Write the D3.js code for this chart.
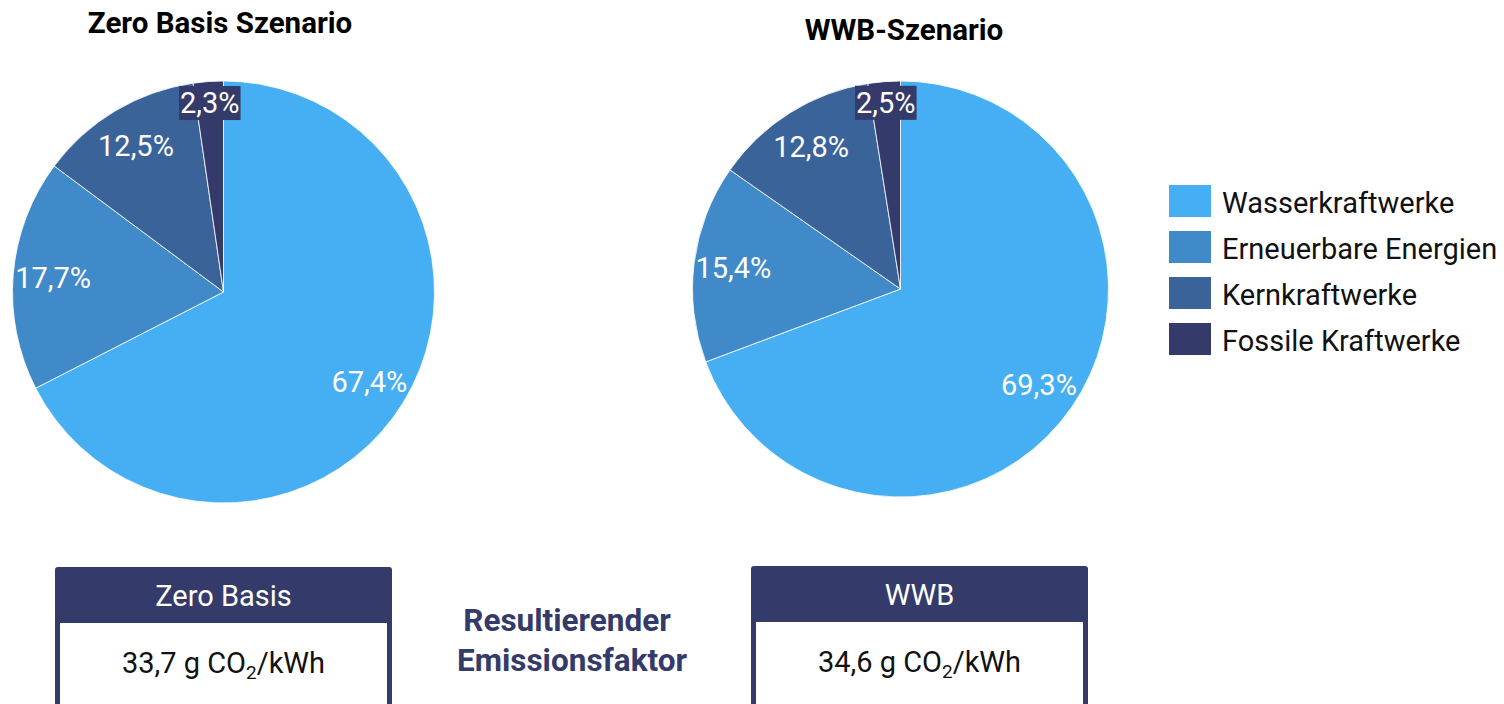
<!DOCTYPE html>
<html>
<head>
<meta charset="utf-8">
<script src="https://cdn.jsdelivr.net/npm/d3@7"></script>
<style>
  html, body { margin: 0; padding: 0; background: #fff; }
  svg { display: block; font-family: Roboto, "Noto Sans", sans-serif; }
</style>
</head>
<body>
<svg id="chart" width="1504" height="704"></svg>
<script>
const categories = ["Wasserkraftwerke", "Erneuerbare Energien", "Kernkraftwerke", "Fossile Kraftwerke"];
const zeroBasisValues = [67.4, 17.7, 12.5, 2.3];
const wwbValues = [69.3, 15.4, 12.8, 2.5];
const scenarioTitles = ["Zero Basis Szenario", "WWB-Szenario"];
const boxTitles = ["Zero Basis", "WWB"];
const emissionValues = ["33,7", "34,6"];
const colors = ["#46AEF2", "#418AC9", "#3A6399", "#343A69"];

const svg = d3.select("#chart");
const color = d3.scaleOrdinal().domain(categories).range(colors);
const fmt = v => d3.format(".1f")(v).replace(".", ",") + "%";

const pies = [
  { values: zeroBasisValues, title: scenarioTitles[0], cx: 223.5, cy: 292, r: 211, titleX: 220, titleY: 33 },
  { values: wwbValues, title: scenarioTitles[1], cx: 900.5, cy: 289, r: 208, titleX: 904, titleY: 40 }
];

const pieGen = d3.pie().sort(null).value(d => d.value);

pies.forEach(p => {
  svg.append("text")
    .attr("x", p.titleX).attr("y", p.titleY)
    .attr("text-anchor", "middle")
    .attr("font-weight", "bold").attr("font-size", 29.5)
    .attr("fill", "#000")
    .text(p.title);

  const data = categories.map((c, i) => ({ cat: c, value: p.values[i] }));
  const arcs = pieGen(data);
  const g = svg.append("g").attr("transform", `translate(${p.cx},${p.cy})`);
  const arc = d3.arc().innerRadius(0).outerRadius(p.r);
  g.selectAll("path").data(arcs).join("path")
    .attr("d", arc)
    .attr("fill", d => color(d.data.cat))
    .attr("stroke", "#fff").attr("stroke-width", 0.8);

  arcs.forEach((d, i) => {
    const isSmall = i === categories.length - 1;
    const lr = p.r * (isSmall ? 0.9 : 0.81);
    const la = d3.arc().innerRadius(lr).outerRadius(lr);
    const [x, y] = la.centroid(d);
    const lg = g.append("g").attr("transform", `translate(${x},${y})`);
    const t = lg.append("text")
      .attr("text-anchor", "middle").attr("dy", "0.36em")
      .attr("font-size", 29).attr("fill", "#fff")
      .text(fmt(d.data.value));
    if (isSmall) {
      const bb = t.node().getBBox();
      lg.insert("rect", "text")
        .attr("x", bb.x - 1).attr("y", bb.y)
        .attr("width", bb.width + 2).attr("height", bb.height)
        .attr("fill", colors[3]);
    }
  });
});

// Legend
const legend = svg.append("g").attr("transform", "translate(1169,185)");
categories.forEach((c, i) => {
  const row = legend.append("g").attr("transform", `translate(0,${i * 46})`);
  row.append("rect").attr("width", 42).attr("height", 32).attr("fill", color(c));
  row.append("text").attr("x", 53).attr("y", 28)
    .attr("font-size", 29).attr("fill", "#111").text(c);
});

// Emission boxes
const boxes = [
  { x: 55, y: 567, w: 337, cx: 223.5 },
  { x: 751, y: 566, w: 337, cx: 919.5 }
];
boxes.forEach((b, i) => {
  const bg = svg.append("g");
  bg.append("path")
    .attr("d", `M${b.x},${b.y + 3} Q${b.x},${b.y} ${b.x + 3},${b.y} L${b.x + b.w - 3},${b.y} Q${b.x + b.w},${b.y} ${b.x + b.w},${b.y + 3} L${b.x + b.w},${704 + 10} L${b.x},${704 + 10} Z`)
    .attr("fill", colors[3]);
  bg.append("rect")
    .attr("x", b.x + 5).attr("y", b.y + 56)
    .attr("width", b.w - 10).attr("height", 200)
    .attr("fill", "#fff");
  bg.append("text")
    .attr("x", b.cx).attr("y", b.y + 39)
    .attr("text-anchor", "middle").attr("font-size", 29).attr("fill", "#fff")
    .text(boxTitles[i]);
  const vt = bg.append("text")
    .attr("x", b.cx).attr("y", b.y + 106)
    .attr("text-anchor", "middle").attr("font-size", 29).attr("fill", "#111");
  vt.append("tspan").text(emissionValues[i] + " g CO");
  vt.append("tspan").attr("font-size", 19).attr("dy", 6).text("2");
  vt.append("tspan").attr("dy", -6).text("/kWh");
});

const mid = svg.append("text")
  .attr("text-anchor", "middle")
  .attr("font-weight", "bold").attr("font-size", 31.5).attr("fill", "#343A69");
mid.append("tspan").attr("x", 567).attr("y", 631).text("Resultierender");
mid.append("tspan").attr("x", 572).attr("y", 671).text("Emissionsfaktor");
</script>
</body>
</html>
